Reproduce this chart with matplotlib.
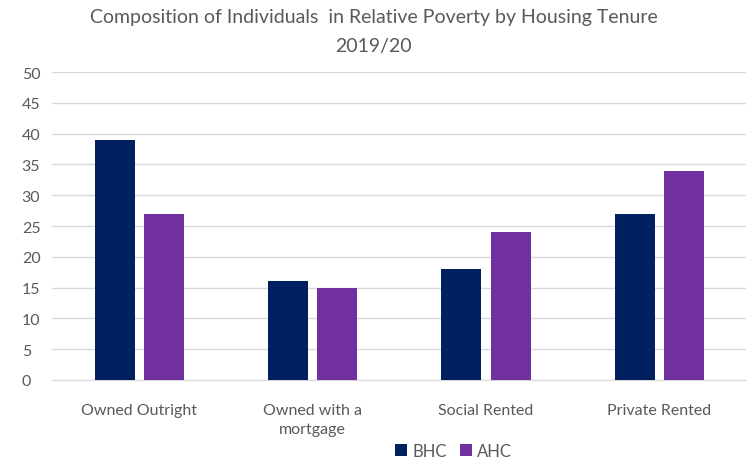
import matplotlib.pyplot as plt
import numpy as np

categories = ['Owned Outright', 'Owned with a\nmortgage', 'Social Rented', 'Private Rented']
bhc = [39, 16, 18, 27]
ahc = [27, 15, 24, 34]
yticks = list(range(0, 55, 5))

navy = '#002060'
purple = '#7030A0'
grey = '#595959'

plt.rcParams['font.family'] = ['Lato', 'DejaVu Sans']

fig = plt.figure(figsize=(7.47, 4.6), dpi=100)
ax = fig.add_axes([0.07, 0.172, 0.928, 0.669])

x = np.arange(len(categories))
w = 0.23
ax.bar(x - 0.14, bhc, w, color=navy, label='BHC', zorder=3)
ax.bar(x + 0.145, ahc, w, color=purple, label='AHC', zorder=3)

ax.set_xlim(-0.5, len(categories) - 0.5)
ax.set_ylim(0, 50)
ax.set_yticks(yticks)
ax.set_xticks(x)
ax.set_xticklabels(categories, fontsize=11.5, color=grey, linespacing=1.45)
ax.tick_params(axis='y', labelsize=11.5, colors=grey, length=0, pad=22)
ax.tick_params(axis='x', length=0, pad=17)
for lab in ax.get_yticklabels():
    lab.set_horizontalalignment('left')

ax.grid(axis='y', color='#d9d9d9', linewidth=1, zorder=0)
for s in ['top', 'right', 'left']:
    ax.spines[s].set_visible(False)
ax.spines['bottom'].set_color('#d9d9d9')

fig.text(0.5, 0.962, 'Composition of Individuals  in Relative Poverty by Housing Tenure',
         ha='center', va='center', fontsize=14, color=grey)
fig.text(0.5, 0.898, '2019/20', ha='center', va='center', fontsize=14, color=grey)

fig.legend(loc='center', bbox_to_anchor=(0.607, 0.018), ncol=2, frameon=False,
           fontsize=12, handlelength=0.7, handleheight=0.7, handletextpad=0.3,
           columnspacing=0.8, labelcolor=grey)

fig.savefig('out.png', dpi=100)
